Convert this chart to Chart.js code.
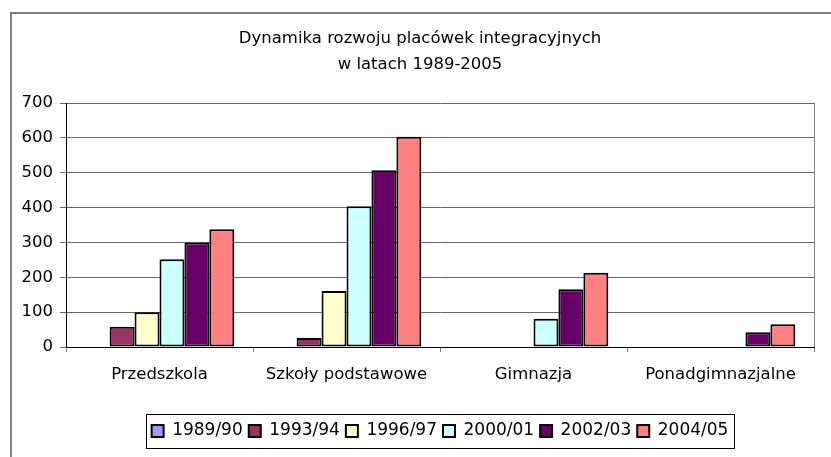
<!DOCTYPE html>
<html><head><meta charset="utf-8">
<script src="https://cdn.jsdelivr.net/npm/chart.js@4/dist/chart.umd.min.js"></script>
<style>html,body{margin:0;padding:0;background:#fff}#c{display:block}</style>
</head><body>
<canvas id="c" width="831" height="457"></canvas>
<script>
const titleLines = ['Dynamika rozwoju placówek integracyjnych', 'w latach 1989-2005'];
const categories = ['Przedszkola', 'Szkoły podstawowe', 'Gimnazja', 'Ponadgimnazjalne'];
const seriesLabels = ['1989/90', '1993/94', '1996/97', '2000/01', '2002/03', '2004/05'];
const v1989_90 = [null, null, null, null];
const v1993_94 = [58, 26, null, null];
const v1996_97 = [100, 161, null, null];
const v2000_01 = [252, 404, 81, null];
const v2002_03 = [300, 507, 166, 42];
const v2004_05 = [338, 603, 213, 65];
const yTicks = [0, 100, 200, 300, 400, 500, 600, 700];
const seriesColors = ['#9999FF', '#993366', '#FFFFCC', '#CCFFFF', '#660066', '#FF8080'];
const seriesValues = [v1989_90, v1993_94, v1996_97, v2000_01, v2002_03, v2004_05];

const FONT = 'DejaVu Sans';

const framePlugin = {
  id: 'frame',
  afterLayout(chart) {
    if (chart.titleBlock) {
      chart.titleBlock.left = 26;
      chart.titleBlock.right = chart.chartArea.right;
    }
  },
  beforeDraw(chart) {
    const ctx = chart.ctx;
    ctx.save();
    ctx.fillStyle = '#fff';
    ctx.fillRect(0, 0, chart.width, chart.height);
    ctx.strokeStyle = '#808080';
    ctx.lineWidth = 2;
    ctx.strokeRect(11, 13, chart.width + 10, chart.height + 10);
    ctx.restore();
  },
  beforeDatasetsDraw(chart) {
    const a = chart.chartArea, ctx = chart.ctx;
    ctx.save();
    ctx.strokeStyle = '#808080';
    ctx.lineWidth = 1;
    ctx.beginPath();
    ctx.moveTo(Math.round(a.right) + 0.5, a.top);
    ctx.lineTo(Math.round(a.right) + 0.5, a.bottom);
    ctx.stroke();
    ctx.restore();
  },
  afterDraw(chart) {
    const lg = chart.legend;
    if (!lg || !lg.legendHitBoxes || !lg.legendHitBoxes.length) return;
    const hb = lg.legendHitBoxes;
    let x0 = Infinity, x1 = -Infinity, y0 = Infinity, y1 = -Infinity;
    hb.forEach(h => { x0 = Math.min(x0, h.left); x1 = Math.max(x1, h.left + h.width); y0 = Math.min(y0, h.top); y1 = Math.max(y1, h.top + h.height); });
    const ctx = chart.ctx;
    ctx.save();
    ctx.strokeStyle = '#000';
    ctx.lineWidth = 1;
    const cy = (y0 + y1) / 2;
    ctx.strokeRect(Math.round(x0 - 6) + 0.5, Math.round(cy - 17) + 0.5, Math.round(x1 - x0 + 11), 34);
    ctx.restore();
  }
};

new Chart(document.getElementById('c'), {
  type: 'bar',
  data: {
    labels: categories,
    datasets: seriesLabels.map((lab, i) => ({
      label: lab,
      data: seriesValues[i],
      backgroundColor: seriesColors[i],
      borderColor: '#000',
      borderWidth: 2,
      borderSkipped: false,
      categoryPercentage: 0.8,
      barPercentage: 1.0
    }))
  },
  options: {
    responsive: false,
    devicePixelRatio: 1,
    animation: false,
    layout: { padding: { left: 0, right: 17, top: 0, bottom: 7.5 } },
    plugins: {
      title: {
        display: true,
        text: titleLines,
        color: '#000',
        font: { family: FONT, size: 16.5, weight: 'normal', lineHeight: 1.6 },
        padding: { top: 25.5, bottom: 24.7 }
      },
      legend: {
        position: 'bottom',
        fullSize: false,
        labels: {
          color: '#000',
          font: { family: FONT, size: 17 },
          boxWidth: 12,
          boxHeight: 12,
          padding: 6
        }
      },
      tooltip: { enabled: false }
    },
    scales: {
      x: {
        afterFit(scale) { scale.height = 69.5; },
        grid: { display: true, offset: true, drawOnChartArea: false, drawTicks: true, tickLength: 5, color: '#808080' },
        border: { display: true, color: '#000', width: 1 },
        ticks: { color: '#000', font: { family: FONT, size: 16.5 }, padding: 13, maxRotation: 0 }
      },
      y: {
        min: 0,
        max: 700,
        afterFit(scale) { scale.width = 66; },
        afterBuildTicks(scale) { scale.ticks = yTicks.map(v => ({ value: v })); },
        grid: { color: '#666', tickLength: 6, lineWidth: 1 },
        border: { display: true, color: '#000', width: 1 },
        ticks: { color: '#000', font: { family: FONT, size: 16.5 }, padding: 7 }
      }
    }
  },
  plugins: [framePlugin]
});
</script>
</body></html>
